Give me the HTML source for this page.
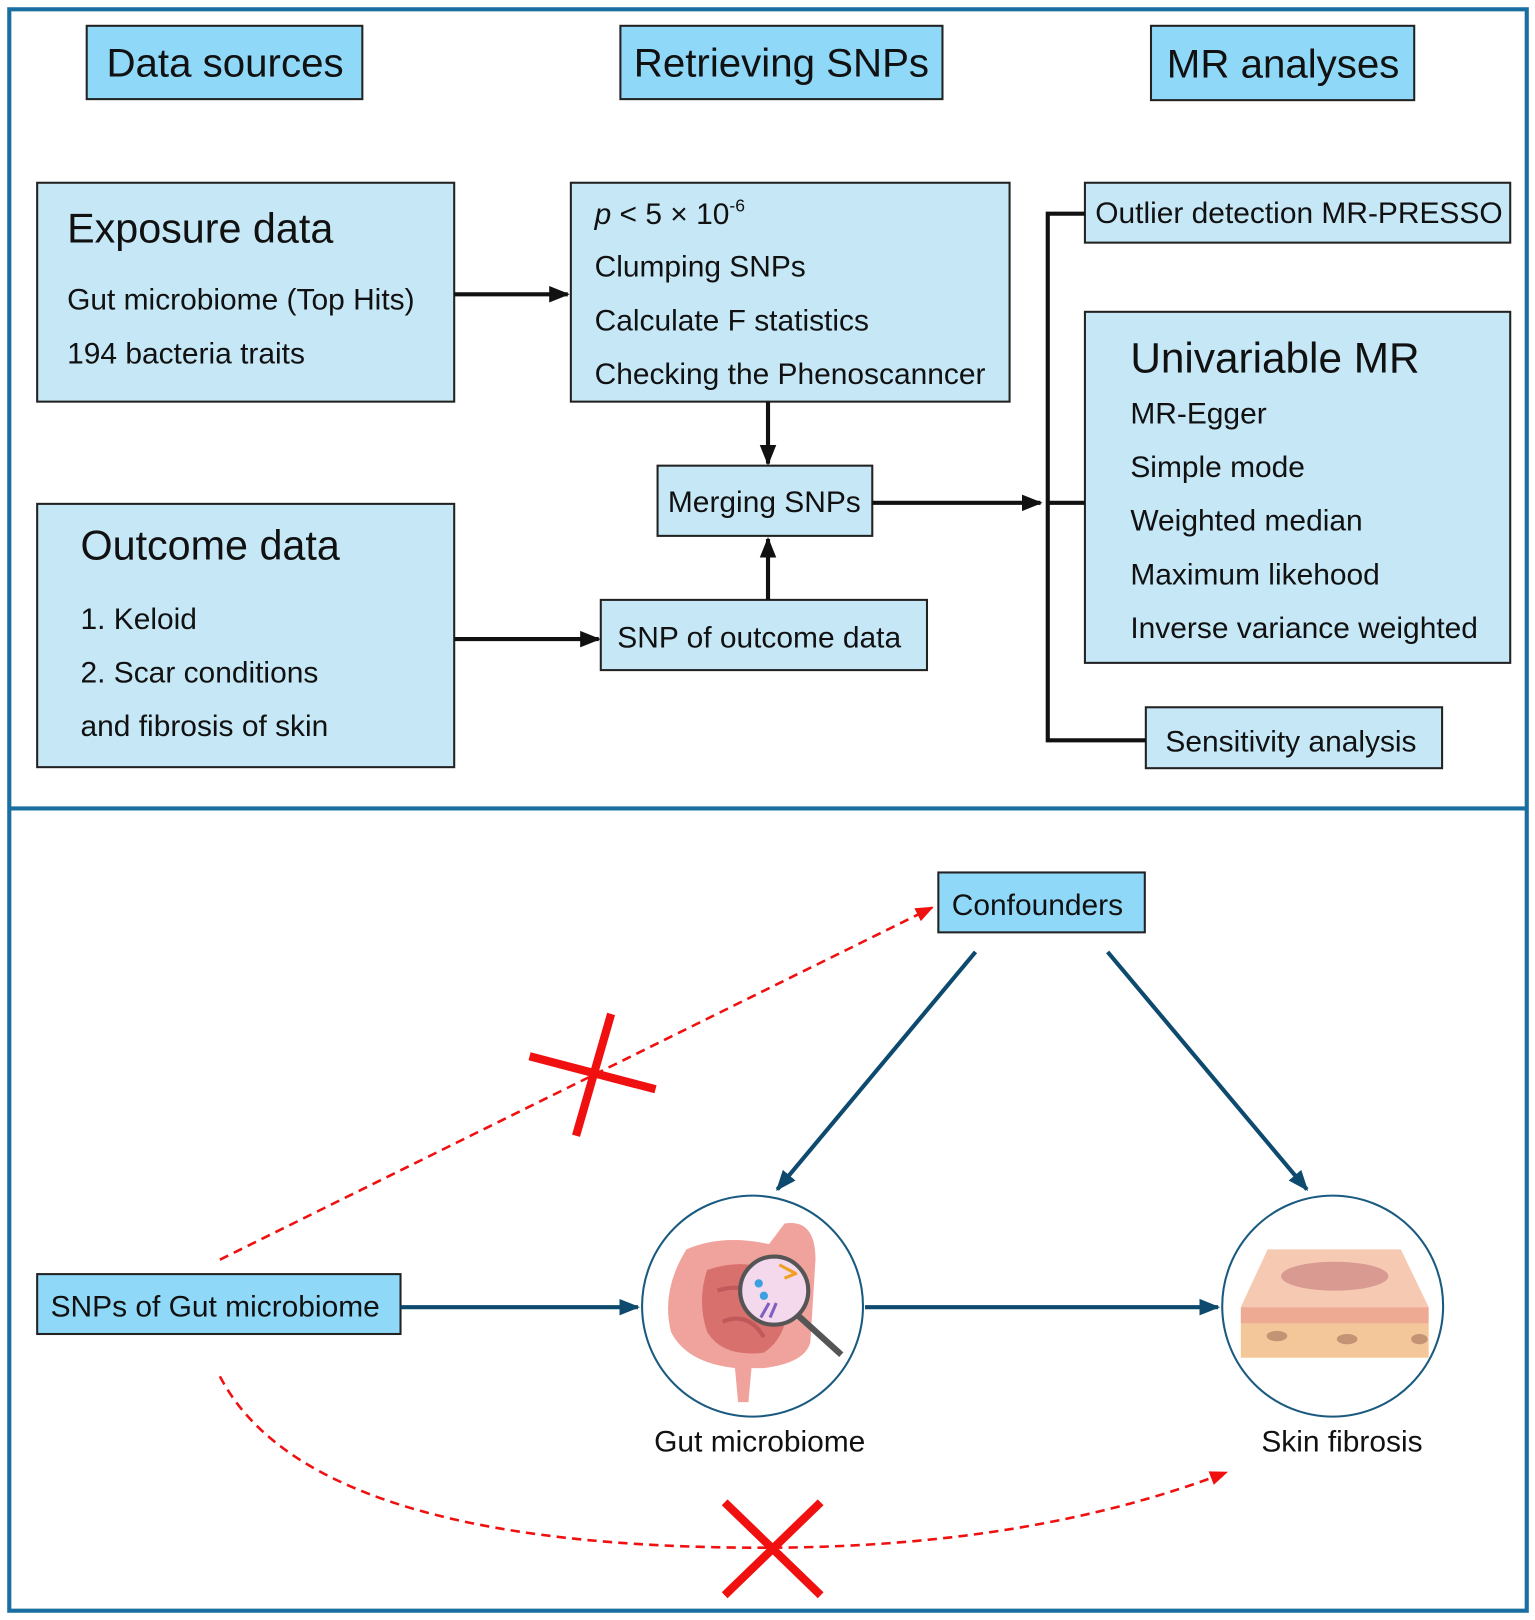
<!DOCTYPE html>
<html><head><meta charset="utf-8"><style>
html,body{margin:0;padding:0;background:#fff}
svg{display:block}
text{font-family:"Liberation Sans",sans-serif;fill:#111;font-weight:500}
</style></head><body>
<svg width="1535" height="1620" viewBox="0 0 1487 1569" preserveAspectRatio="none" xmlns="http://www.w3.org/2000/svg">
<defs>
<marker id="ab" viewBox="0 0 10 10" refX="9" refY="5" markerWidth="5" markerHeight="5" orient="auto"><path d="M0,1 L10,5 L0,9 z" fill="#111"/></marker>
<marker id="an" viewBox="0 0 10 10" refX="9" refY="5" markerWidth="5" markerHeight="5" orient="auto"><path d="M0,1 L10,5 L0,9 z" fill="#0d4a6e"/></marker>
<marker id="ar" viewBox="0 0 10 10" refX="9" refY="5" markerWidth="7" markerHeight="7" orient="auto"><path d="M0,1 L10,5 L0,9 z" fill="#f01010"/></marker>
</defs>
<rect x="0" y="0" width="1487" height="1569" fill="#fff"/>
<rect x="9" y="9" width="1470" height="1551" fill="none" stroke="#1a6fa0" stroke-width="4"/>
<line x1="9" y1="783" x2="1479" y2="783" stroke="#1a6fa0" stroke-width="4"/>

<g stroke="#222" stroke-width="2">
<rect x="84" y="25" width="267" height="71" fill="#8fd8f8"/>
<rect x="601" y="25" width="312" height="71" fill="#8fd8f8"/>
<rect x="1115" y="25" width="255" height="72" fill="#8fd8f8"/>
<rect x="36" y="177" width="404" height="212" fill="#c5e7f6"/>
<rect x="553" y="177" width="425" height="212" fill="#c5e7f6"/>
<rect x="637" y="451" width="208" height="68" fill="#c5e7f6"/>
<rect x="582" y="581" width="316" height="68" fill="#c5e7f6"/>
<rect x="36" y="488" width="404" height="255" fill="#c5e7f6"/>
<rect x="1051" y="177" width="412" height="58" fill="#c5e7f6"/>
<rect x="1051" y="302" width="412" height="340" fill="#c5e7f6"/>
<rect x="1110" y="685" width="287" height="59" fill="#c5e7f6"/>
<rect x="909" y="845" width="200" height="58" fill="#8fd8f8"/>
<rect x="36" y="1234" width="352" height="58" fill="#8fd8f8"/>
</g>

<g font-size="39" text-anchor="middle">
<text x="218" y="74">Data sources</text>
<text x="757" y="74">Retrieving SNPs</text>
<text x="1243" y="75">MR analyses</text>
</g>
<g font-size="29">
<text x="65" y="235" font-size="40">Exposure data</text>
<text x="65" y="300">Gut microbiome (Top Hits)</text>
<text x="65" y="352">194 bacteria traits</text>
<text x="576" y="217"><tspan font-style="italic">p</tspan> &lt; 5 × 10<tspan font-size="17" dy="-12">-6</tspan></text>
<text x="576" y="268">Clumping SNPs</text>
<text x="576" y="320">Calculate F statistics</text>
<text x="576" y="372">Checking the Phenoscanncer</text>
<text x="647" y="496">Merging SNPs</text>
<text x="598" y="627">SNP of outcome data</text>
<text x="78" y="542" font-size="40">Outcome data</text>
<text x="78" y="609">1. Keloid</text>
<text x="78" y="661">2. Scar conditions</text>
<text x="78" y="713">and fibrosis of skin</text>
<text x="1061" y="216">Outlier detection MR-PRESSO</text>
<text x="1095" y="361" font-size="41">Univariable MR</text>
<text x="1095" y="410">MR-Egger</text>
<text x="1095" y="462">Simple mode</text>
<text x="1095" y="514">Weighted median</text>
<text x="1095" y="566">Maximum likehood</text>
<text x="1095" y="618">Inverse variance weighted</text>
<text x="1129" y="728">Sensitivity analysis</text>
<text x="922" y="886">Confounders</text>
<text x="49" y="1275">SNPs of Gut microbiome</text>
<text x="736" y="1406" text-anchor="middle">Gut microbiome</text>
<text x="1300" y="1406" text-anchor="middle">Skin fibrosis</text>
</g>

<g stroke="#111" stroke-width="4" fill="none">
<line x1="440" y1="285" x2="550" y2="285" marker-end="url(#ab)"/>
<line x1="744" y1="389" x2="744" y2="449" marker-end="url(#ab)"/>
<line x1="744" y1="581" x2="744" y2="522" marker-end="url(#ab)"/>
<line x1="440" y1="619" x2="580" y2="619" marker-end="url(#ab)"/>
<line x1="845" y1="487" x2="1008" y2="487" marker-end="url(#ab)"/>
<polyline points="1051,207 1015,207 1015,717 1110,717"/>
<line x1="1015" y1="487" x2="1051" y2="487"/>
</g>

<g stroke="#0d4a6e" stroke-width="4" fill="none">
<line x1="388" y1="1266" x2="618" y2="1266" marker-end="url(#an)"/>
<line x1="838" y1="1266" x2="1180" y2="1266" marker-end="url(#an)"/>
<line x1="945" y1="922" x2="753" y2="1152" marker-end="url(#an)"/>
<line x1="1073" y1="922" x2="1266" y2="1152" marker-end="url(#an)"/>
</g>
<circle cx="729" cy="1265" r="107" fill="#fff" stroke="#1a5a80" stroke-width="2"/>
<circle cx="1291" cy="1265" r="107" fill="#fff" stroke="#1a5a80" stroke-width="2"/>

<g>
<path d="M665,1210 Q700,1195 745,1205 L760,1185 Q790,1180 790,1220 L785,1300 Q780,1320 740,1325 L728,1325 L725,1358 L715,1358 L712,1325 Q665,1320 650,1290 Q640,1250 665,1210 z" fill="#f0a39c"/>
<path d="M685,1230 Q730,1215 760,1240 Q770,1290 740,1310 Q700,1315 685,1290 Q675,1260 685,1230 z" fill="#d8706d"/>
<path d="M695,1250 Q725,1240 745,1265 M700,1280 Q725,1270 740,1295" stroke="#c05a5a" stroke-width="4" fill="none"/>
<circle cx="750" cy="1250" r="33" fill="#f4d8ec" stroke="#555" stroke-width="4"/>
<line x1="773" y1="1274" x2="815" y2="1312" stroke="#555" stroke-width="6"/>
<circle cx="735" cy="1243" r="4" fill="#3aa0e0"/><circle cx="740" cy="1255" r="4" fill="#3aa0e0"/>
<path d="M755,1225 l15,8 M760,1238 l12,-5" stroke="#f0a020" stroke-width="3"/>
<path d="M745,1262 l-8,14 M752,1262 l-6,14" stroke="#8060c0" stroke-width="3"/>
</g>
<g>
<polygon points="1228,1210 1357,1210 1384,1266 1202,1266" fill="#f6c9b3"/>
<ellipse cx="1293" cy="1236" rx="52" ry="14" fill="#d99a92"/>
<rect x="1202" y="1266" width="182" height="16" fill="#eeaa92"/>
<rect x="1202" y="1282" width="182" height="33" fill="#f4c79a"/>
<ellipse cx="1237" cy="1294" rx="10" ry="5" fill="#c49275"/>
<ellipse cx="1305" cy="1297" rx="10" ry="5" fill="#c49275"/>
<ellipse cx="1375" cy="1297" rx="8" ry="5" fill="#c49275"/>
</g>

<g stroke="#f01010" stroke-width="2.5" fill="none" stroke-dasharray="9,6">
<line x1="213" y1="1220" x2="903" y2="879" marker-end="url(#ar)"/>
<path d="M213,1333 Q300,1500 745,1499 Q1000,1498 1188,1426" marker-end="url(#ar)"/>
</g>
<g stroke="#f01010" stroke-width="8">
<line x1="513" y1="1023" x2="635" y2="1055"/>
<line x1="592" y1="982" x2="558" y2="1100"/>
<line x1="702" y1="1455" x2="795" y2="1545"/>
<line x1="795" y1="1455" x2="702" y2="1545"/>
</g>
</svg>
</body></html>
